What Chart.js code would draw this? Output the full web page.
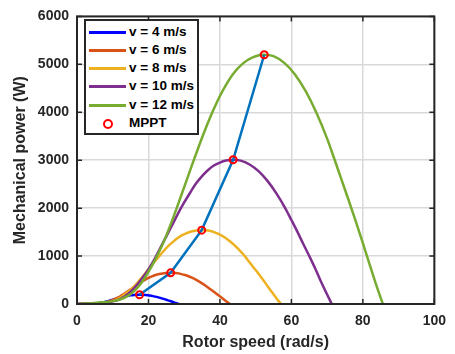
<!DOCTYPE html>
<html>
<head>
<meta charset="utf-8">
<script src="https://cdn.jsdelivr.net/npm/chart.js@4.4.1/dist/chart.umd.min.js"></script>
<style>
  body { margin: 0; background: #fff; }
  #wrap { position: relative; width: 455px; height: 354px; }
  #legend {
    position: absolute; left: 84px; top: 19px; width: 111px; height: 112px;
    border: 2px solid #262626; background: #fff;
    font: bold 13.5px 'Liberation Sans', Arial, sans-serif; color: #000;
  }
  .fila { position: absolute; left: 0; height: 18px; line-height: 18px; white-space: nowrap; }
  .muestra { position: absolute; left: 3px; top: 8px; width: 37px; height: 2.5px; }
  .circulo { position: absolute; left: 17px; top: 4.5px; width: 6px; height: 6px; border: 2px solid #ff0000; border-radius: 50%; }
  .texto { position: absolute; left: 43px; top: 0; }
</style>
</head>
<body>
<div id="wrap">
  <canvas id="grafico" width="455" height="354"></canvas>
  <div id="legend"></div>
</div>
<script>
// Curvas de potencia mecanica vs velocidad del rotor
const etiquetas = ['v = 4 m/s', 'v = 6 m/s', 'v = 8 m/s', 'v = 10 m/s', 'v = 12 m/s'];
const colores = ['#0000ff', '#d95319', '#edb120', '#7e2f8e', '#77ac30'];

const w4 = [0, 1.3, 2.7, 3.3, 4, 4.7, 5.3, 6, 6.7, 7.3, 8, 8.7, 9.3, 10, 10.7, 11.3, 12, 12.7, 13.3, 14, 14.7, 15.3, 16, 16.7, 17.5, 18.3, 19.3, 20.3, 21.3, 22.3, 23.3, 24, 24.7, 25.3, 26, 26.7, 27.3, 28, 28.5];
const p4 = [0, 1, 1, 2, 4, 6, 10, 16, 25, 35, 46, 60, 75, 90, 106, 121, 136, 149, 161, 171, 179, 185, 189, 191, 193, 191, 186, 177, 164, 148, 128, 112, 96, 80, 64, 47, 30, 13, 0];

const w6 = [0, 2, 4, 5, 6, 7, 8, 9, 10, 11, 12, 13, 14, 15, 16, 17, 18, 19, 20, 21, 22, 23, 24, 25, 26.2, 27.5, 29, 30.5, 32, 33.5, 35, 36, 37, 38, 39, 40, 41, 42, 42.8];
const p6 = [0, 2, 5, 8, 12, 20, 34, 55, 84, 118, 156, 203, 253, 305, 358, 409, 458, 503, 543, 576, 604, 624, 638, 646, 650, 646, 629, 599, 555, 499, 431, 379, 325, 271, 216, 159, 100, 43, 0];

const w8 = [0, 2.7, 5.3, 6.7, 8, 9.3, 10.7, 12, 13.3, 14.7, 16, 17.3, 18.7, 20, 21.3, 22.7, 24, 25.3, 26.7, 28, 29.3, 30.7, 32, 33.3, 34.9, 36.7, 38.7, 40.7, 42.7, 44.7, 46.7, 48, 49.3, 50.7, 52, 53.3, 54.7, 56, 57.1];
const p8 = [0, 4, 12, 18, 28, 47, 80, 130, 199, 279, 370, 480, 599, 723, 847, 969, 1084, 1191, 1286, 1366, 1431, 1479, 1511, 1532, 1541, 1532, 1490, 1419, 1316, 1182, 1022, 898, 770, 643, 513, 376, 237, 101, 0];

const w10 = [0, 3.3, 6.7, 8.3, 10, 11.7, 13.3, 15, 16.7, 18.3, 20, 21.7, 23.3, 25, 26.7, 28.3, 30, 31.7, 33.3, 35, 36.7, 38.3, 40, 41.7, 43.7, 45.8, 48.3, 50.8, 53.3, 55.8, 58.3, 60, 61.7, 63.3, 65, 66.7, 68.3, 70, 71.3];
const p10 = [0, 9, 23, 35, 55, 93, 156, 255, 388, 544, 723, 937, 1169, 1412, 1655, 1892, 2118, 2326, 2512, 2668, 2795, 2888, 2951, 2992, 3009, 2992, 2911, 2772, 2569, 2309, 1997, 1753, 1505, 1256, 1001, 735, 463, 197, 0];

const w12 = [0, 4, 8, 10, 12, 14, 16, 18, 20, 22, 24, 26, 28, 30, 32, 34, 36, 38, 40, 42, 44, 46, 48, 50, 52.4, 55, 58, 61, 64, 67, 70, 72, 74, 76, 78, 80, 82, 84, 85.6];
const p12 = [0, 15, 40, 60, 95, 160, 270, 440, 670, 940, 1250, 1620, 2020, 2440, 2860, 3270, 3660, 4020, 4340, 4610, 4830, 4990, 5100, 5170, 5200, 5170, 5030, 4790, 4440, 3990, 3450, 3030, 2600, 2170, 1730, 1270, 800, 340, 0];

// puntos de maxima potencia (MPPT)
const wMppt = [17.5, 26.2, 34.9, 43.7, 52.4];
const pMppt = [193, 650, 1541, 3009, 5200];

const ticksX = [0, 20, 40, 60, 80, 100];
const ticksY = [0, 1000, 2000, 3000, 4000, 5000, 6000];

const fuente = "'Liberation Sans', Arial, sans-serif";
const unir = (xs, ys) => xs.map((v, i) => ({ x: v, y: ys[i] }));

const curvas = [[w4, p4], [w6, p6], [w8, p8], [w10, p10], [w12, p12]].map((c, i) => ({
    label: etiquetas[i],
    data: unir(c[0], c[1]),
    borderColor: colores[i],
    borderWidth: 2.5,
    pointRadius: 0,
    cubicInterpolationMode: 'monotone',
    fill: false
})).reverse(); // en Chart.js el primer dataset queda encima

const datasets = [
    { label: 'MPPT', data: unir(wMppt, pMppt), showLine: false, pointRadius: 3.5, pointBorderWidth: 2,
      pointBorderColor: '#ff0000', pointBackgroundColor: 'rgba(0,0,0,0)', borderColor: '#ff0000' },
    { label: 'linea', data: unir(wMppt, pMppt), borderColor: '#0072bd', borderWidth: 2.5, pointRadius: 0, tension: 0 },
    ...curvas
];

// caja y ticks hacia adentro, estilo MATLAB
const cajaPlugin = {
    id: 'caja',
    afterDraw(chart) {
        const { ctx, chartArea: a, scales: { x, y } } = chart;
        ctx.save();
        ctx.strokeStyle = '#262626';
        ctx.lineWidth = 1.5;
        ctx.beginPath();
        ticksX.forEach(v => {
            const px = x.getPixelForValue(v);
            ctx.moveTo(px, a.bottom); ctx.lineTo(px, a.bottom - 5);
            ctx.moveTo(px, a.top); ctx.lineTo(px, a.top + 5);
        });
        ticksY.forEach(v => {
            const py = y.getPixelForValue(v);
            ctx.moveTo(a.left, py); ctx.lineTo(a.left + 5, py);
            ctx.moveTo(a.right, py); ctx.lineTo(a.right - 5, py);
        });
        ctx.stroke();
        ctx.lineWidth = 2;
        ctx.strokeRect(a.left, a.top, a.right - a.left, a.bottom - a.top);
        ctx.restore();
    }
};

new Chart(document.getElementById('grafico'), {
    type: 'line',
    data: { datasets: datasets },
    options: {
        responsive: false,
        animation: false,
        layout: { padding: { top: 10, right: 15, left: 0, bottom: 0 } },
        plugins: { legend: { display: false }, tooltip: { enabled: false } },
        scales: {
            x: {
                type: 'linear', min: 0, max: 100,
                afterFit: s => { s.height = 50; },
                afterBuildTicks: s => { s.ticks = ticksX.map(v => ({ value: v })); },
                grid: { color: '#d9d9d9', lineWidth: 1.5, drawTicks: false },
                border: { display: false },
                ticks: { padding: 9, color: '#262626', callback: v => String(v),
                         font: { family: fuente, size: 14, weight: 'bold' } },
                title: { display: true, text: 'Rotor speed (rad/s)', color: '#262626', padding: { top: 0, bottom: 2 },
                         font: { family: fuente, size: 16, weight: 'bold' } }
            },
            y: {
                type: 'linear', min: 0, max: 6000,
                afterFit: s => { s.width = 77; },
                afterBuildTicks: s => { s.ticks = ticksY.map(v => ({ value: v })); },
                grid: { color: '#d9d9d9', lineWidth: 1.5, drawTicks: false },
                border: { display: false },
                ticks: { padding: 8, color: '#262626', callback: v => String(v),
                         font: { family: fuente, size: 14, weight: 'bold' } },
                title: { display: true, text: 'Mechanical power (W)', color: '#262626', padding: { top: 11, bottom: 0 },
                         font: { family: fuente, size: 16, weight: 'bold' } }
            }
        }
    },
    plugins: [cajaPlugin]
});

// leyenda dentro del area del grafico
const leyenda = document.getElementById('legend');
etiquetas.concat(['MPPT']).forEach((t, i) => {
    const fila = document.createElement('div');
    fila.className = 'fila';
    fila.style.top = Math.round(1.5 + i * 18.3) + 'px';
    const marca = i < colores.length
        ? `<div class="muestra" style="background:${colores[i]}"></div>`
        : `<div class="circulo"></div>`;
    fila.innerHTML = marca + `<span class="texto">${t}</span>`;
    leyenda.appendChild(fila);
});
</script>
</body>
</html>
